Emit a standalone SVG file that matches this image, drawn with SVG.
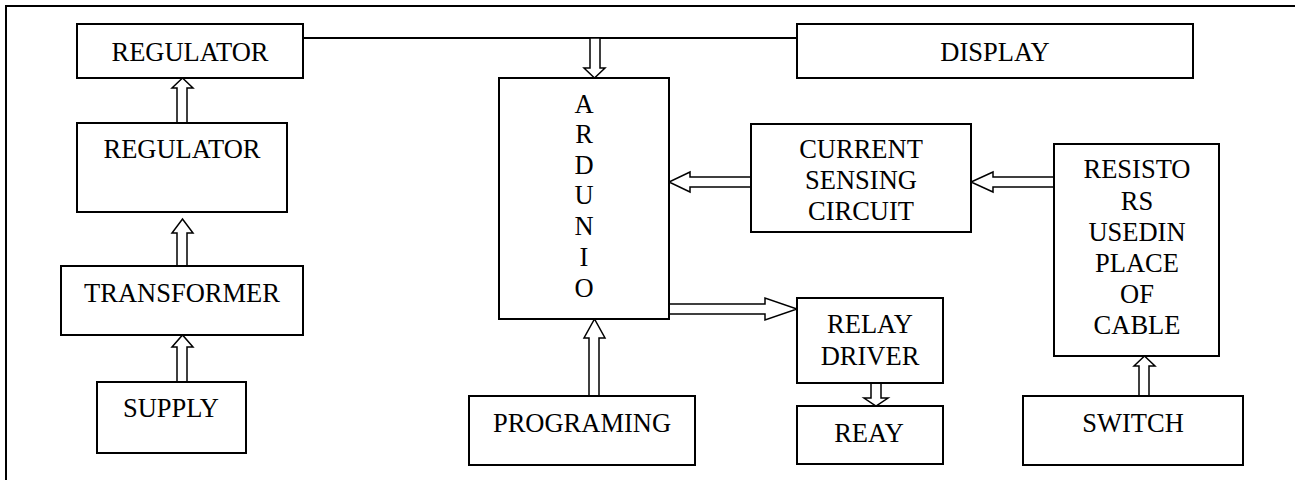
<svg xmlns="http://www.w3.org/2000/svg" width="1295" height="480" viewBox="0 0 1295 480">
<style>
.box{fill:#fff;stroke:#000;stroke-width:2}
.arr{fill:#fff;stroke:#000;stroke-width:1.5;stroke-linejoin:miter}
.ln{fill:none;stroke:#000;stroke-width:2}
text{font-family:"Liberation Serif","Times New Roman",serif;font-size:26.5px;fill:#000;text-anchor:middle}
</style>
<rect width="1295" height="480" fill="#fff"/>
<path class="ln" d="M6,480 V6 H1295"/>
<g id="connectors">
<line class="ln" x1="303" y1="38" x2="797" y2="38"/>
<polygon class="arr" points="177,123 177,88 172,88 182.5,78 193,88 187,88 187,123"/>
<polygon class="arr" points="177,266 177,233 172,233 182.5,219 193,233 187,233 187,266"/>
<polygon class="arr" points="177,382 177,347 172,347 182.5,335 193,347 187,347 187,382"/>
<polygon class="arr" points="590,38 590,68 584,68 594.5,78 605,68 600,68 600,38"/>
<polygon class="arr" points="751,177 690,177 690,172 669,182 690,192 690,187 751,187"/>
<polygon class="arr" points="1054,177 993,177 993,172 971,182 993,192 993,187 1054,187"/>
<polygon class="arr" points="669,304 765,304 765,298 797,309 765,320 765,314 669,314"/>
<polygon class="arr" points="871,383 871,398 864,398 876,406 888,398 881,398 881,383"/>
<polygon class="arr" points="589,396 589,338 584,338 594.5,319 605,338 599,338 599,396"/>
<polygon class="arr" points="1139,396 1139,366 1134,366 1144.5,356 1155,366 1149,366 1149,396"/>
</g>
<g id="regulator1"><rect class="box" x="77" y="24" width="226" height="54"/><text x="190" y="61">REGULATOR</text></g>
<g id="display"><rect class="box" x="797" y="24" width="396" height="54"/><text x="995" y="61">DISPLAY</text></g>
<g id="regulator2"><rect class="box" x="77" y="123" width="210" height="89"/><text x="182" y="158">REGULATOR</text></g>
<g id="transformer"><rect class="box" x="61" y="266" width="242" height="69"/><text x="182" y="302">TRANSFORMER</text></g>
<g id="supply"><rect class="box" x="97" y="382" width="149" height="71"/><text x="171" y="417">SUPPLY</text></g>
<g id="ardunio"><rect class="box" x="499" y="78" width="170" height="241"/>
<text x="584" y="113">A</text><text x="584" y="143">R</text><text x="584" y="174">D</text><text x="584" y="204">U</text><text x="584" y="235">N</text><text x="584" y="266">I</text><text x="584" y="297">O</text></g>
<g id="current"><rect class="box" x="751" y="124" width="220" height="108"/><text x="861" y="158">CURRENT</text><text x="861" y="189">SENSING</text><text x="861" y="220">CIRCUIT</text></g>
<g id="resistors"><rect class="box" x="1054" y="144" width="165" height="212"/>
<text x="1137" y="178">RESISTO</text><text x="1137" y="210">RS</text><text x="1137" y="241">USEDIN</text><text x="1137" y="272">PLACE</text><text x="1137" y="303">OF</text><text x="1137" y="334">CABLE</text></g>
<g id="relaydriver"><rect class="box" x="797" y="298" width="146" height="85"/><text x="870" y="333">RELAY</text><text x="870" y="365">DRIVER</text></g>
<g id="reay"><rect class="box" x="797" y="406" width="146" height="58"/><text x="869" y="442">REAY</text></g>
<g id="programing"><rect class="box" x="469" y="396" width="226" height="69"/><text x="582" y="432">PROGRAMING</text></g>
<g id="switch"><rect class="box" x="1023" y="396" width="220" height="69"/><text x="1133" y="432">SWITCH</text></g>
</svg>
